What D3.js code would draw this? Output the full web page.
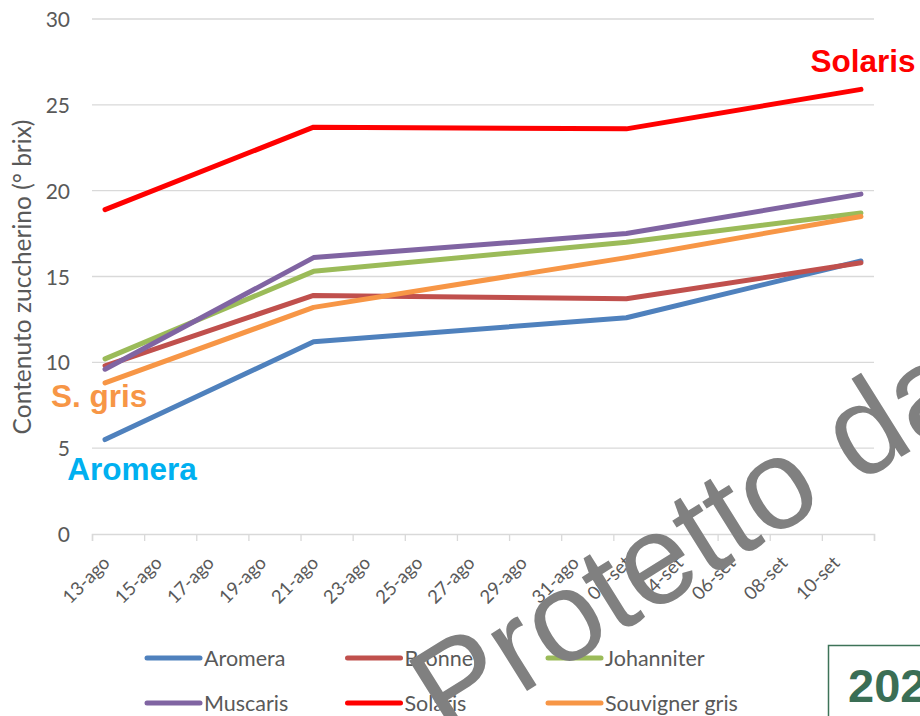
<!DOCTYPE html>
<html>
<head>
<meta charset="utf-8">
<script src="https://cdn.jsdelivr.net/npm/d3@7"></script>
<style>
  body { margin: 0; background: #fff; }
  svg { display: block; }
</style>
</head>
<body>
<svg id="chart" width="920" height="716"></svg>
<script>
// Sampling dates (year does not matter, only the spacing)
const dates = ["2021-08-13", "2021-08-21", "2021-09-02", "2021-09-11"];

const varieties = ["Aromera", "Bronner", "Johanniter", "Muscaris", "Solaris", "Souvigner gris"];
const colors = ["#4f81bd", "#c0504d", "#9bbb59", "#8064a2", "#ff0000", "#f79646"];

// Sugar content (° brix) per variety, one value per date
const aromera = [5.5, 11.2, 12.6, 15.9];
const bronner = [9.8, 13.9, 13.7, 15.8];
const johanniter = [10.2, 15.3, 17.0, 18.7];
const muscaris = [9.6, 16.1, 17.5, 19.8];
const solaris = [18.9, 23.7, 23.6, 25.9];
const souvigner = [8.8, 13.2, 16.1, 18.5];

const yTicks = [0, 5, 10, 15, 20, 25, 30];
const monthNames = ["gen", "feb", "mar", "apr", "mag", "giu", "lug", "ago", "set", "ott", "nov", "dic"];

// Coloured labels written on the plot
const notes = [
  { text: "Solaris", color: "#ff0000", date: "2021-09-11", value: 26.9, dx: 2 },
  { text: "S. gris", color: "#f79646", date: "2021-08-13", value: 7.4, dx: -6 },
  { text: "Aromera", color: "#00b0f0", date: "2021-08-13", value: 3.15, dx: 27 }
];

const series = [aromera, bronner, johanniter, muscaris, solaris, souvigner];

let svg = d3.select("#chart");
let parse = d3.timeParse("%Y-%m-%d");
let day = 864e5;

// Date axis: one slot per day, points sit in the middle of their slot
let x = d3.scaleTime()
  .domain([parse("2021-08-13"), parse("2021-09-12")])
  .range([92, 874]);
let y = d3.scaleLinear().domain([0, 30]).range([534, 19]);
let mid = function (s) { return x(new Date(parse(s).getTime() + day / 2)); };

// gridlines
svg.append("g")
  .selectAll("line")
  .data(yTicks.slice(1))
  .join("line")
  .attr("x1", 92).attr("x2", 874)
  .attr("y1", d => y(d)).attr("y2", d => y(d))
  .attr("stroke", "#d9d9d9").attr("stroke-width", 1.3);

// y tick labels
svg.append("g")
  .selectAll("text")
  .data(yTicks)
  .join("text")
  .attr("x", 70).attr("y", d => y(d) + 8)
  .attr("text-anchor", "end")
  .attr("font-family", "Lato, sans-serif")
  .attr("font-size", 21)
  .attr("fill", "#595959")
  .text(d => d);

// x axis with ticks every two days
let tickDates = d3.timeDay.range(parse("2021-08-13"), d3.timeDay.offset(parse("2021-09-12"), 1), 2);
let xAxis = d3.axisBottom(x).tickValues(tickDates).tickSize(7).tickFormat("");
let gx = svg.append("g").attr("transform", "translate(0,534)").call(xAxis);
gx.select(".domain").attr("stroke", "#d9d9d9").attr("stroke-width", 1.5);
gx.selectAll(".tick line").attr("stroke", "#d9d9d9").attr("stroke-width", 1.3);

let labelDates = tickDates.slice(0, -1);
svg.append("g")
  .selectAll("text")
  .data(labelDates)
  .join("text")
  .attr("transform", d => "translate(" + (x(new Date(d.getTime() + day / 2)) + 6) + ",564) rotate(-45)")
  .attr("text-anchor", "end")
  .attr("font-family", "Lato, sans-serif")
  .attr("font-size", 18.5)
  .attr("fill", "#595959")
  .text(d => d3.timeFormat("%d")(d) + "-" + monthNames[d.getMonth()]);

// y axis title
svg.append("text")
  .attr("transform", "translate(31,277) rotate(-90)")
  .attr("text-anchor", "middle")
  .attr("font-family", "Lato, sans-serif")
  .attr("font-size", 24.5)
  .attr("fill", "#595959")
  .text("Contenuto zuccherino (° brix)");

// lines
let line = d3.line()
  .x((d, i) => mid(dates[i]))
  .y(d => y(d));

svg.append("g")
  .selectAll("path")
  .data(series)
  .join("path")
  .attr("d", d => line(d))
  .attr("fill", "none")
  .attr("stroke", (d, i) => colors[i])
  .attr("stroke-width", 5)
  .attr("stroke-linecap", "round")
  .attr("stroke-linejoin", "round");

// coloured notes
svg.append("g")
  .selectAll("text")
  .data(notes)
  .join("text")
  .attr("x", d => mid(d.date) + d.dx)
  .attr("y", d => y(d.value))
  .attr("text-anchor", "middle")
  .attr("font-family", "'Liberation Sans', Arial, sans-serif")
  .attr("font-weight", "bold")
  .attr("font-size", 31.5)
  .attr("fill", d => d.color)
  .text(d => d.text);

// legend, two rows of three
let legend = svg.append("g")
  .selectAll("g")
  .data(varieties)
  .join("g")
  .attr("transform", (d, i) => "translate(" + (147 + (i % 3) * 200.5) + "," + (658 + Math.floor(i / 3) * 45) + ")");
legend.append("line")
  .attr("x1", 0).attr("x2", 53)
  .attr("stroke", (d, i) => colors[i])
  .attr("stroke-width", 5)
  .attr("stroke-linecap", "round");
legend.append("text")
  .attr("x", 57).attr("y", 7.5)
  .attr("font-family", "Lato, sans-serif")
  .attr("font-size", 21.5)
  .attr("fill", "#595959")
  .text(d => d);

// year box, cut by the right edge
svg.append("rect")
  .attr("x", 828.5).attr("y", 645.5)
  .attr("width", 120).attr("height", 100)
  .attr("fill", "#fff")
  .attr("stroke", "#3d7358").attr("stroke-width", 1.5);
svg.append("text")
  .attr("x", 848).attr("y", 702)
  .attr("font-family", "'Liberation Sans', Arial, sans-serif")
  .attr("font-weight", "bold")
  .attr("font-size", 47)
  .attr("fill", "#3a6e55")
  .text("202");

// watermark
svg.append("text")
  .attr("transform", "translate(447,741) rotate(-32)")
  .attr("font-family", "'Liberation Sans', Arial, sans-serif")
  .attr("font-size", 128)
  .attr("fill", "#808080")
  .text("Protetto da");
</script>
</body>
</html>
